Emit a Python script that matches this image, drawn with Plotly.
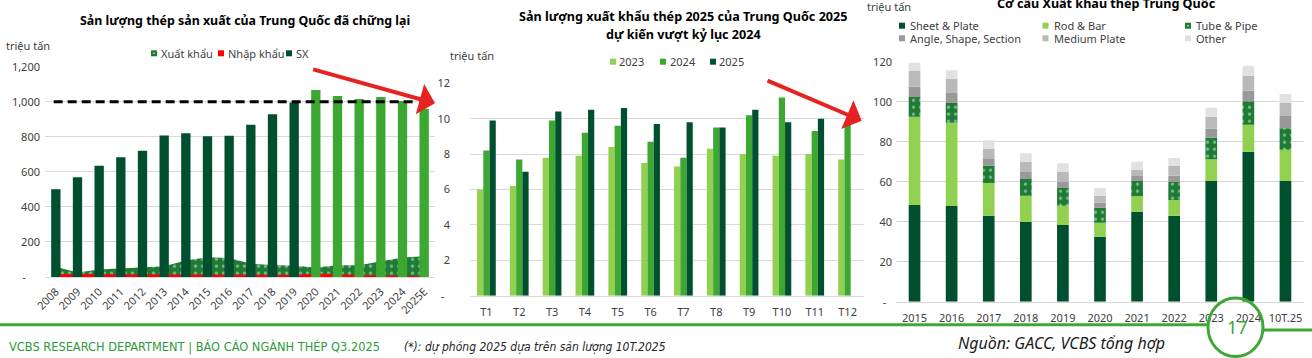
import plotly.graph_objects as go

W, H = 1312, 358

# ---------------- DATA ----------------
# Chart 1: Chinese steel production / exports / imports (million tonnes)
years1 = ["2008", "2009", "2010", "2011", "2012", "2013", "2014", "2015", "2016",
          "2017", "2018", "2019", "2020", "2021", "2022", "2023", "2024", "2025E"]
production = [500, 569, 635, 683, 721, 808, 820, 803, 806, 869, 928, 996,
              1067, 1033, 1016, 1027, 1004, 960]
exports1 = [59, 25, 43, 49, 56, 62, 94, 112, 108, 75, 69, 64, 54, 67, 67, 90, 111, 118]
imports1 = [15, 18, 16, 16, 14, 14, 14, 13, 13, 13, 13, 12, 20, 14, 11, 8, 7, 6]
record_level = 1000
highlight_from = "2020"
y1_ticks = [0, 200, 400, 600, 800, 1000, 1200]

# Chart 2: monthly exports (million tonnes)
months = ["T1", "T2", "T3", "T4", "T5", "T6", "T7", "T8", "T9", "T10", "T11", "T12"]
exp_2023 = [6.0, 6.2, 7.8, 7.9, 8.4, 7.5, 7.3, 8.3, 8.0, 7.9, 8.0, 7.7]
exp_2024 = [8.2, 7.7, 9.9, 9.2, 9.6, 8.7, 7.8, 9.5, 10.2, 11.2, 9.3, 9.7]
exp_2025 = [9.9, 7.0, 10.4, 10.5, 10.6, 9.7, 9.8, 9.5, 10.5, 9.8, 10.0, None]
y2_ticks = [0, 2, 4, 6, 8, 10, 12]

# Chart 3: export structure (million tonnes)
years3 = ["2015", "2016", "2017", "2018", "2019", "2020", "2021", "2022", "2023", "2024", "10T.25"]
sheet_plate = [48.3, 47.8, 43.0, 39.8, 38.3, 32.5, 45.0, 43.0, 60.3, 75.0, 60.3]
rod_bar = [44.2, 41.7, 16.3, 13.2, 9.7, 7.0, 7.7, 7.8, 10.9, 13.5, 15.7]
tube_pipe = [9.8, 9.8, 8.7, 8.3, 8.8, 7.5, 7.6, 9.0, 10.8, 11.7, 10.7]
angle_shape = [5.2, 5.0, 3.3, 3.5, 3.0, 2.5, 2.5, 3.2, 4.5, 5.3, 6.1]
medium_plate = [8.0, 7.0, 5.0, 5.0, 5.0, 3.5, 3.2, 5.0, 6.0, 7.5, 6.7]
other = [4.0, 4.4, 4.4, 4.4, 4.4, 3.8, 4.0, 3.8, 4.5, 5.0, 4.3]
y3_ticks = [0, 20, 40, 60, 80, 100, 120]

# ---------------- STYLE ----------------
FONT = "Noto Sans, Open Sans, sans-serif"
NARROW = "Liberation Sans Narrow, DejaVu Sans Condensed, Roboto, sans-serif"
GRID = "#D9D9D9"
TXT = "#404040"
DARK = "#00502F"
MID = "#3CA832"
LIGHT = "#92D050"
PAT = "#1E7B34"
RED = "#FF0000"
ARROW = "#E52421"
FOOT = "#3DA834"


def X(px):
    return px / W


def Y(py):
    return 1 - py / H


def fmt_ticks(vals, pad):
    return [("-" + "\u00a0" * pad) if v == 0 else f"{v:,}" for v in vals]


fig = go.Figure()

# ---- Chart 1 ----
fig.add_trace(go.Scatter(
    x=years1, y=exports1, xaxis="x", yaxis="y", mode="lines", name="Xuất khẩu",
    line=dict(width=0, color=PAT), fill="tozeroy", fillcolor=PAT,
    fillpattern=dict(shape=".", bgcolor=PAT, fgcolor="#D6EBD9", size=7, solidity=0.18),
))
fig.add_trace(go.Scatter(
    x=years1, y=imports1, xaxis="x", yaxis="y", mode="lines", name="Nhập khẩu",
    line=dict(width=0, color=RED), fill="tozeroy", fillcolor=RED,
))
hl = years1.index(highlight_from)
fig.add_trace(go.Bar(
    x=years1, y=production, xaxis="x", yaxis="y4", name="SX", width=0.43,
    marker=dict(color=[DARK if i < hl else MID for i in range(len(years1))], line=dict(width=0)),
))

# ---- Chart 2 ----
for name, vals, col in [("2023", exp_2023, LIGHT), ("2024", exp_2024, MID), ("2025", exp_2025, DARK)]:
    fig.add_trace(go.Bar(x=months, y=vals, xaxis="x2", yaxis="y2", name=name,
                         marker=dict(color=col, line=dict(width=0))))

# ---- Chart 3 ----
series3 = [
    ("Sheet & Plate", sheet_plate, dict(color=DARK)),
    ("Rod & Bar", rod_bar, dict(color=LIGHT)),
    ("Tube & Pipe", tube_pipe, dict(color=PAT, pattern=dict(shape=".", bgcolor=PAT, fgcolor="#D6EBD9",
                                                             size=7, solidity=0.18))),
    ("Angle, Shape, Section", angle_shape, dict(color="#999999")),
    ("Medium Plate", medium_plate, dict(color="#B9B9B9")),
    ("Other", other, dict(color="#E1E1E1")),
]
base = [0.0] * len(years3)
for name, vals, mk in series3:
    mk = dict(mk)
    mk["line"] = dict(width=0)
    fig.add_trace(go.Bar(x=years3, y=vals, base=list(base), xaxis="x3", yaxis="y3", name=name,
                         offsetgroup="mix", width=0.315, marker=mk))
    base = [b + v for b, v in zip(base, vals)]

# ---------------- AXES ----------------
tickfont = dict(family=FONT, size=11, color=TXT)
common_x = dict(type="category", showgrid=False, showline=True, linecolor=GRID, linewidth=1,
                ticks="", tickfont=tickfont, fixedrange=True, automargin=False)
common_y = dict(showgrid=True, gridcolor=GRID, gridwidth=1, zeroline=False, showline=False,
                ticks="", tickfont=tickfont, fixedrange=True, automargin=False)

fig.update_layout(
    xaxis=dict(common_x, domain=[X(45), X(435)], anchor="y", tickangle=-45, ticklabelstandoff=3),
    yaxis=dict(common_y, domain=[Y(277), Y(66.7)], anchor="x", range=[0, 1200],
               tickvals=y1_ticks, ticktext=fmt_ticks(y1_ticks, 5), ticklabelstandoff=4),
    yaxis4=dict(overlaying="y", anchor="x", range=[0, 1200], visible=False, showgrid=False,
                fixedrange=True, automargin=False),
    xaxis2=dict(common_x, domain=[X(470), X(864)], anchor="y2", ticklabelstandoff=6),
    yaxis2=dict(common_y, domain=[Y(295.7), Y(83.3)], anchor="x2", range=[0, 12],
                tickvals=y2_ticks, ticktext=fmt_ticks(y2_ticks, 2), ticklabelstandoff=19),
    xaxis3=dict(common_x, domain=[X(896), X(1304)], anchor="y3", ticklabelstandoff=6),
    yaxis3=dict(common_y, domain=[Y(301.7), Y(61.7)], anchor="x3", range=[0, 120],
                tickvals=y3_ticks, ticktext=fmt_ticks(y3_ticks, 2), ticklabelstandoff=3),
)

fig.update_layout(
    width=W, height=H, margin=dict(l=0, r=0, t=0, b=0, autoexpand=False),
    paper_bgcolor="white", plot_bgcolor="white",
    barmode="group", bargap=0.43, bargroupgap=0,
    showlegend=False, font=dict(family=FONT, color=TXT),
)

shapes = []
annotations = []

# record-level dashed line in chart 1
shapes.append(dict(type="line", xref="x", yref="y", x0=-0.1, x1=16.6, y0=record_level, y1=record_level,
                   line=dict(color="black", width=3, dash="9px,5px"), layer="above"))


def text(x, y, s, size=11, color=TXT, bold=False, italic=False, xanchor="left", family=FONT):
    if bold:
        s = f"<b>{s}</b>"
    if italic:
        s = f"<i>{s}</i>"
    annotations.append(dict(x=X(x), y=Y(y), xref="paper", yref="paper", text=s, showarrow=False,
                            xanchor=xanchor, yanchor="middle", borderpad=0,
                            font=dict(family=family, size=size, color=color)))


def legend_item(mx, my, label, color, tx, patterned=False):
    shapes.append(dict(type="rect", xref="paper", yref="paper", x0=X(mx), x1=X(mx + 6),
                       y0=Y(my + 3), y1=Y(my - 3), fillcolor=color, line=dict(width=0)))
    if patterned:
        shapes.append(dict(type="rect", xref="paper", yref="paper", x0=X(mx + 2.3), x1=X(mx + 3.7),
                           y0=Y(my + 0.7), y1=Y(my - 0.7), fillcolor="#D6EBD9", line=dict(width=0)))
    text(tx, my, label)


# titles
text(245, 20, "Sản lượng thép sản xuất của Trung Quốc đã chững lại", size=12.4, color="black", bold=True,
     xanchor="center")
text(683, 17, "Sản lượng xuất khẩu thép 2025 của Trung Quốc 2025", size=12.6, color="black", bold=True,
     xanchor="center")
text(683, 35, "dự kiến vượt kỷ lục 2024", size=12.6, color="black", bold=True, xanchor="center")
text(1106, 4, "Cơ cấu Xuất khẩu thép Trung Quốc", size=12.6, color="black", bold=True, xanchor="center")

# unit labels
text(5, 45, "triệu tấn")
text(449, 55, "triệu tấn")
text(866, 7, "triệu tấn")

# legends
legend_item(151, 53.3, "Xuất khẩu", PAT, 160, patterned=True)
legend_item(218, 53.3, "Nhập khẩu", RED, 226.5)
legend_item(286, 53.3, "SX", DARK, 295)

legend_item(610, 61.7, "2023", LIGHT, 618)
legend_item(660, 61.7, "2024", MID, 669)
legend_item(710, 61.7, "2025", DARK, 718)

leg3 = [(899, 25.7, 909), (1042.5, 25.7, 1052.5), (1185, 25.7, 1195),
        (899, 38.3, 909), (1042.5, 38.3, 1052.5), (1185, 38.3, 1195)]
for (mx, my, tx), (name, _, mk) in zip(leg3, series3):
    legend_item(mx, my, name, mk["color"], tx, patterned="pattern" in mk)

# red arrows
for tip, tail in [((435, 103.3), (311.7, 69)), ((861.7, 120.7), (766, 80))]:
    annotations.append(dict(x=X(tip[0]), y=Y(tip[1]), xref="paper", yref="paper", text="",
                            showarrow=True, arrowhead=1, arrowsize=1.3, arrowwidth=4,
                            arrowcolor=ARROW, ax=tail[0] - tip[0], ay=tail[1] - tip[1],
                            axref="pixel", ayref="pixel", standoff=0))

# footer
shapes.append(dict(type="line", xref="paper", yref="paper", x0=X(0), x1=X(1208), y0=Y(324.7), y1=Y(324.7),
                   line=dict(color=FOOT, width=3)))
shapes.append(dict(type="line", xref="paper", yref="paper", x0=X(1263), x1=X(1312), y0=Y(330), y1=Y(330),
                   line=dict(color=FOOT, width=3)))
shapes.append(dict(type="circle", xref="paper", yref="paper", x0=X(1208), x1=X(1263), y0=Y(356.5),
                   y1=Y(298), line=dict(color=FOOT, width=3)))
text(1237, 327, "17", size=18, color=FOOT, xanchor="center")
text(8, 347, "VCBS RESEARCH DEPARTMENT | BÁO CÁO NGÀNH THÉP Q3.2025", size=12.7, color="#2E9A3A",
     family=NARROW)
text(403, 347, "(*): dự phóng 2025 dựa trên sản lượng 10T.2025", size=12, color="#262626", italic=True,
     family=NARROW)
text(957, 343, "Nguồn: GACC, VCBS tổng hợp", size=16, color="#1A1A1A", italic=True)

fig.update_layout(shapes=shapes, annotations=annotations)

fig.write_html("out.html", config={"displayModeBar": False},
               post_script="document.body.style.margin='0px';document.body.style.overflow='hidden';")
